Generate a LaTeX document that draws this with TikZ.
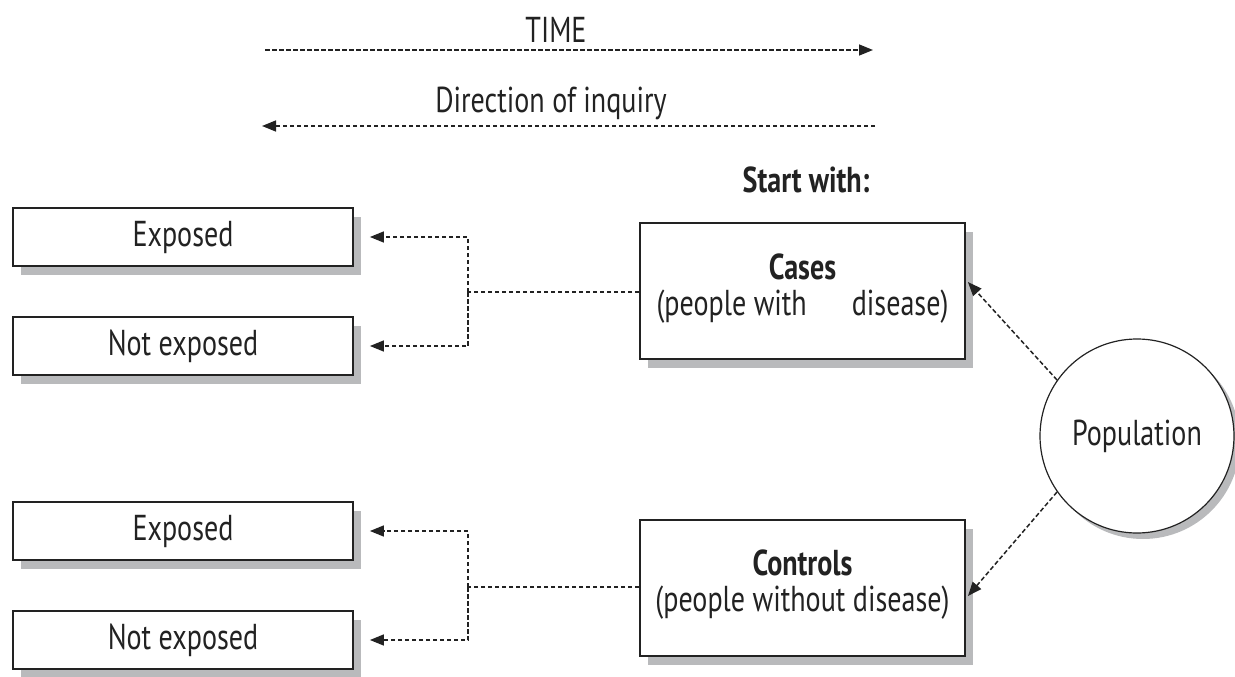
\documentclass[tikz,border=0pt]{standalone}
\usepackage{fontspec}
\setmainfont[FakeStretch=0.78]{PT Sans}
\usetikzlibrary{arrows.meta,shadows}
\definecolor{shade}{HTML}{B9BABC}
\definecolor{ink}{HTML}{222222}
\tikzset{
  every node/.style={font=\fontsize{36}{36}\selectfont, text=ink},
  fbox/.style={draw=ink, line width=1.8pt, fill=white, rectangle, inner sep=0pt,
    copy shadow={shadow xshift=8pt, shadow yshift=-9pt, fill=shade, draw=none, opacity=1}},
  smallbox/.style={fbox, minimum width=340pt, minimum height=58pt},
  bigbox/.style={fbox, minimum width=325pt, minimum height=136pt, align=center},
  popcircle/.style={draw=ink, line width=1.2pt, fill=white, circle, minimum size=194pt, inner sep=0pt,
    copy shadow={shadow xshift=6pt, shadow yshift=-6pt, fill=shade, draw=none, opacity=1}},
  link/.style={draw=ink, line width=1.5pt, dash pattern=on 4.5pt off 2.5pt},
  tip/.style={-{Triangle[length=14pt,width=11pt]}},
}
\begin{document}
\begin{tikzpicture}[x=1pt,y=-1pt]
\useasboundingbox (0,0) rectangle (1235,677);

% time axis and direction of inquiry
\node (time) at (556,30) {TIME};
\coordinate (t0) at (265,50);
\coordinate (t1) at (873,50);
\draw[link,tip] (t0) -- (t1);
\node (inq) at (551,103) {Direction of inquiry};
\coordinate (i0) at (875,126);
\coordinate (i1) at (262,126);
\draw[link,tip] (i0) -- (i1);

\node[font=\fontsize{36}{36}\selectfont\bfseries] (start) at (806,180) {Start with:};

% outcome boxes
\node[smallbox] (exp1) at (183,237) {Exposed};
\node[smallbox] (nexp1) at (183,346) {Not exposed};
\node[smallbox] (exp2) at (183,531) {Exposed};
\node[smallbox] (nexp2) at (183,640) {Not exposed};

% study groups (text sits in the upper part of the box)
\node[bigbox] (cases) at (802.5,291) {\textbf{Cases}\\(people with\hspace{1.25em}disease)\\[-24pt]\mbox{}};
\node[bigbox] (controls) at (802.5,588) {\textbf{Controls}\\(people without disease)\\[-22pt]\mbox{}};

% source population
\node[popcircle] (pop) at (1137,436) {Population};

% branches from cases
\coordinate (cj) at (468,292);
\draw[link] (cases.west |- cj) -- (cj);
\draw[link,tip] (cj) |- ([xshift=16pt]exp1.east);
\draw[link,tip] (cj) |- ([xshift=16pt]nexp1.east);

% branches from controls
\coordinate (kj) at (468,587);
\draw[link] (controls.west |- kj) -- (kj);
\draw[link,tip] (kj) |- ([xshift=16pt]exp2.east);
\draw[link,tip] (kj) |- ([xshift=16pt]nexp2.east);

% sampling from the population
\draw[link,tip] (pop.145) -- ([xshift=2pt,yshift=9pt]cases.east);
\draw[link,tip] (pop.215) -- ([xshift=2pt,yshift=-8pt]controls.east);
\end{tikzpicture}
\end{document}
